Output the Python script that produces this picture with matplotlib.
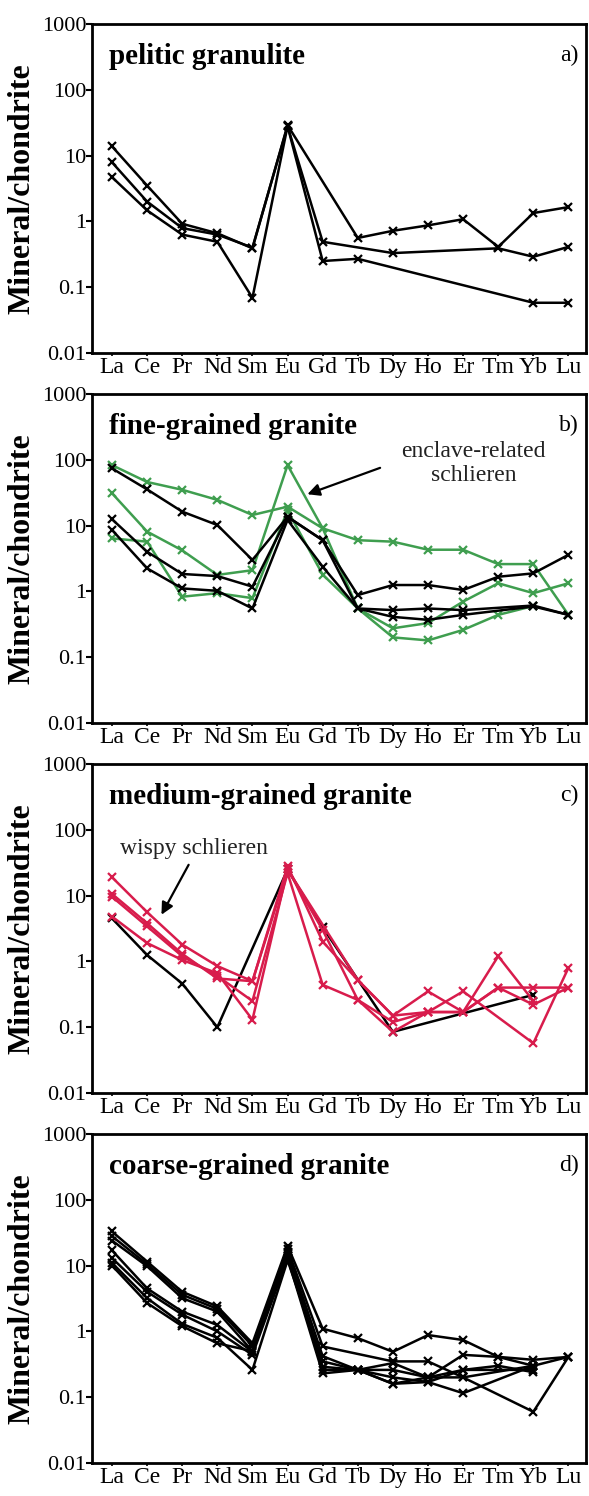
import numpy as np
import matplotlib
matplotlib.use("Agg")
import matplotlib.pyplot as plt

plt.rcParams['font.family'] = ['Liberation Serif', 'DejaVu Serif']

nan = np.nan
elements = ["La", "Ce", "Pr", "Nd", "Sm", "Eu", "Gd", "Tb", "Dy", "Ho", "Er", "Tm", "Yb", "Lu"]

# a) pelitic granulite
a_black = [
    [13.8, 3.5, 0.92, 0.66, 0.39, 29, nan, 0.56, 0.72, 0.87, 1.08, 0.41, 1.34, 1.65],
    [7.9, 2.0, 0.79, 0.63, 0.40, 28, 0.49, nan, 0.33, nan, nan, 0.39, 0.29, 0.41],
    [4.7, 1.47, 0.63, 0.49, 0.069, 28, 0.25, 0.27, nan, nan, nan, nan, 0.058, 0.058],
]

# b) fine-grained granite
b_black = [
    [74, 35.5, 16.3, 10.2, 3.0, 13.6, 6.0, 0.88, 1.25, 1.25, 1.05, 1.67, 1.88, 3.6],
    [12.5, 4.0, 1.84, 1.71, 1.18, 13.6, 6.0, 0.55, 0.41, 0.37, 0.44, nan, 0.59, 0.44],
    [8.6, 2.24, 1.11, 1.02, 0.55, 12.2, 2.37, 0.55, 0.52, 0.55, 0.52, nan, 0.61, 0.44],
]
b_green = [
    [83, 46, 35, 24.6, 14.5, 19.4, 9.1, 6.0, 5.7, 4.3, 4.3, 2.6, 2.6, 0.44],
    [31, 8.1, 4.2, 1.78, 2.1, 83, 9.1, 0.55, 0.275, 0.33, 0.70, 1.33, 0.94, 1.33],
    [6.4, 5.7, 0.83, 0.94, 0.79, 17, 1.8, 0.55, 0.2, 0.18, 0.26, 0.44, 0.6, nan],
]

# c) medium-grained granite
c_black = [
    [4.5, 1.25, 0.46, 0.10, nan, 25, 3.3, nan, 0.085, nan, nan, nan, 0.31, nan],
]
c_red = [
    [19, 5.6, 1.8, 0.85, 0.5, 28, 2.0, 0.52, 0.15, 0.35, 0.17, 0.4, 0.4, 0.4],
    [10.6, 3.8, 1.3, 0.55, 0.5, 25, 3.0, 0.26, 0.12, 0.17, 0.35, nan, 0.057, 0.8],
    [9.6, 3.4, 1.2, 0.6, 0.25, 22, 0.44, 0.26, 0.085, 0.17, 0.17, 1.2, 0.25, nan],
    [4.8, 1.9, 1.05, 0.66, 0.13, 25, nan, 0.52, 0.15, 0.17, 0.17, 0.4, 0.22, 0.4],
]

# d) coarse-grained granite
d_black = [
    [33, 11.5, 4.0, 2.4, 0.66, 20, 1.1, 0.79, 0.49, 0.88, 0.74, 0.41, 0.37, 0.41],
    [28, 10.5, 3.6, 2.2, 0.6, 18, 0.59, nan, 0.35, 0.35, 0.2, nan, 0.3, nan],
    [24, 9.8, 3.2, 2.0, 0.5, 16, 0.42, 0.26, 0.26, 0.2, 0.44, 0.41, 0.3, nan],
    [17, 4.5, 2.0, 1.25, 0.49, 15, 0.29, 0.26, 0.16, 0.17, 0.26, 0.3, 0.24, nan],
    [13, 4.0, 1.8, 1.0, 0.44, 13, 0.23, 0.26, 0.2, 0.17, 0.115, nan, 0.3, 0.41],
    [11, 3.2, 1.3, 0.8, 0.26, 12, 0.35, 0.26, 0.16, 0.2, 0.2, nan, 0.06, 0.41],
    [10, 2.7, 1.2, 0.66, 0.5, 14, 0.26, 0.26, 0.33, 0.2, 0.26, nan, 0.26, nan],
]

titles = ["pelitic granulite", "fine-grained granite", "medium-grained granite", "coarse-grained granite"]
letters = ["a)", "b)", "c)", "d)"]

GREEN = "#3f9e4f"
RED = "#d81c4c"


def draw_series(ax, rows, color):
    x = np.arange(len(elements))
    for row in rows:
        y = np.array(row, dtype=float)
        ok = ~np.isnan(y)
        ax.plot(x[ok], y[ok], color=color, lw=1.8, marker="x", ms=6, mew=1.6)


fig = plt.figure(figsize=(5.89, 14.96), dpi=100)
H = 1496.0
panels = [
    [(a_black, "black")],
    [(b_green, GREEN), (b_black, "black")],
    [(c_black, "black"), (c_red, RED)],
    [(d_black, "black")],
]

axes = []
for i in range(4):
    top = 24 + 370 * i
    bot = 353 + 370 * i
    ax = fig.add_axes([92 / 589, 1 - bot / H, (586 - 92) / 589, (bot - top) / H])
    for rows, col in panels[i]:
        draw_series(ax, rows, col)
    ax.set_yscale("log")
    ax.set_ylim(0.01, 1000)
    ax.set_xlim(-0.57, 13.5)
    ax.set_yticks([0.01, 0.1, 1, 10, 100, 1000])
    ax.set_yticklabels(["0.01", "0.1", "1", "10", "100", "1000"])
    ax.minorticks_off()
    ax.set_xticks(np.arange(len(elements)))
    ax.set_xticklabels(elements)
    ax.tick_params(axis="y", direction="out", length=4, width=1.5, pad=0, labelsize=16)
    ax.tick_params(axis="x", direction="out", length=2, width=1.2, pad=1, labelsize=17)
    for s in ax.spines.values():
        s.set_linewidth(2)
    ax.set_ylabel("Mineral/chondrite", fontsize=23, fontweight="bold", labelpad=4)
    ax.text(0.035, 0.90, titles[i], transform=ax.transAxes, fontsize=21,
            fontweight="bold", va="center", ha="left")
    ax.text(0.985, 0.905, letters[i], transform=ax.transAxes, fontsize=17,
            va="center", ha="right")
    axes.append(ax)

# annotations
axes[1].text(10.3, 88, "enclave-related\nschlieren", fontsize=17, ha="center",
             va="center", color="#222222", linespacing=1.15)
axes[1].annotate("", xy=(5.49, 29), xytext=(7.71, 78),
                 arrowprops=dict(arrowstyle="-|>", color="black", lw=1.6,
                                 mutation_scale=18))
axes[2].text(2.33, 52, "wispy schlieren", fontsize=17, ha="center", va="center",
             color="#222222")
axes[2].annotate("", xy=(1.37, 4.7), xytext=(2.22, 32),
                 arrowprops=dict(arrowstyle="-|>", color="black", lw=1.6,
                                 mutation_scale=18))

fig.savefig("out.png", dpi=100)
